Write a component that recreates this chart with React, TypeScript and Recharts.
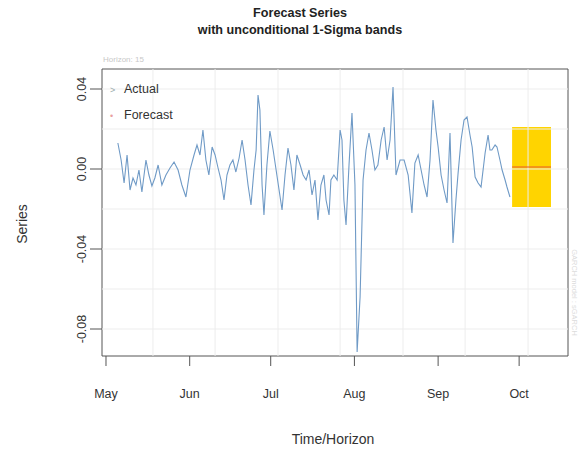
import { Area, ComposedChart, Legend, Line, ReferenceArea, ReferenceLine, XAxis, YAxis } from "recharts";

// days counted from 1 May
const monthTicks = [0, 31, 61, 92, 123, 153];
const monthLabels = ["May", "Jun", "Jul", "Aug", "Sep", "Oct"];
const yTicks = [0.04, 0.0, -0.04, -0.08];
const gridY = [0.04, 0.02, 0.0, -0.02, -0.04, -0.06, -0.08];
const gridX = [17.4, 40.4, 63.7, 86.7, 110, 133, 156.3];

const actualDays = [
  4.4, 5.6, 6.7, 7.8, 8.9, 10.0, 11.1, 12.2, 13.3, 14.8, 15.9, 17.0, 18.1, 19.3, 20.7, 22.2, 23.7, 25.2, 26.7, 28.1,
  29.6, 31.1, 32.6, 33.7, 34.8, 35.9, 37.0, 38.1, 39.3, 40.4, 41.5, 42.6, 43.7, 44.8, 45.9, 47.0, 48.1, 49.3, 50.4, 51.5,
  52.6, 53.7, 54.8, 55.6, 56.3, 57.0, 57.8, 58.5, 59.6, 60.7, 61.9, 63.0, 64.1, 65.2, 66.3, 67.4, 68.5, 69.6, 70.7, 71.9,
  73.0, 74.1, 75.2, 76.3, 77.4, 78.5, 79.6, 80.7, 81.5, 82.6, 83.3, 84.4, 85.6, 86.7, 87.4, 88.1, 88.9, 90.0, 91.1, 92.2,
  93.0, 94.1, 95.2, 96.3, 97.4, 98.5, 99.6, 100.7, 101.9, 103.0, 104.1, 105.2, 106.3, 107.4, 108.9, 110.4, 111.9, 113.3,
  114.4, 115.6, 116.7, 117.8, 118.9, 120.0, 121.1, 122.2, 123.0, 124.1, 125.2, 126.3, 127.4, 128.5, 129.6, 130.4, 131.5,
  132.6, 133.7, 134.8, 135.6, 136.7, 137.8, 138.9, 140.4, 141.5, 142.2, 142.9, 144.1, 144.8, 145.9, 146.7, 147.8, 148.5,
  149.6,
];
const actualValues = [
  0.013, 0.0045, -0.007, 0.007, -0.0105, -0.0045, -0.008, -0.0005, -0.0115, 0.0045, -0.003, -0.0085, -0.0045, 0.002,
  -0.008, -0.003, 0.0005, 0.0035, -0.0005, -0.008, -0.014, -0.0005, 0.007, 0.012, 0.007, 0.0195, 0.0045, -0.003, 0.011,
  0.007, 0.0005, -0.0055, -0.0155, -0.003, 0.002, 0.0045, -0.0015, 0.0055, 0.0145, 0.0045, -0.008, -0.018, -0.0005,
  0.0095, 0.037, 0.0295, -0.008, -0.023, 0.002, 0.019, 0.0095, -0.0005, -0.0105, -0.0205, -0.003, 0.0105, 0.002, -0.0105,
  0.007, 0.002, -0.003, -0.0055, -0.0005, -0.013, -0.0055, -0.0255, -0.008, -0.003, -0.0155, -0.023, -0.0055, -0.003,
  -0.0055, 0.0195, 0.0145, -0.0155, -0.028, 0.002, 0.028, -0.008, -0.0915, -0.064, -0.0055, 0.0095, 0.018, 0.0095,
  -0.0005, 0.002, 0.0145, 0.021, 0.0045, 0.0145, 0.041, -0.003, 0.0045, 0.0045, -0.003, -0.022, 0.003, 0.007, -0.0005,
  -0.008, -0.014, 0.0045, 0.0345, 0.0195, 0.011, -0.003, -0.0105, -0.017, 0.018, -0.037, -0.0155, -0.002, 0.0145, 0.0245,
  0.026, 0.017, 0.011, -0.004, -0.007, -0.009, 0.008, 0.017, 0.0095, 0.0095, 0.012, 0.011, 0.0045, -0.0005, -0.0055,
  -0.009, -0.014,
];

const forecastDays = [150.4, 151.4, 152.4, 153.5, 154.5, 155.5, 156.6, 157.6, 158.6, 159.7, 160.7, 161.7, 162.7, 163.8, 164.8];
const forecastValues = [0.001, 0.001, 0.001, 0.001, 0.001, 0.001, 0.001, 0.001, 0.001, 0.001, 0.001, 0.001, 0.001, 0.001, 0.001];
const upperBand = [0.021, 0.021, 0.021, 0.021, 0.021, 0.021, 0.021, 0.021, 0.021, 0.021, 0.021, 0.021, 0.021, 0.021, 0.021];
const lowerBand = [-0.019, -0.019, -0.019, -0.019, -0.019, -0.019, -0.019, -0.019, -0.019, -0.019, -0.019, -0.019, -0.019, -0.019, -0.019];

const xDomain = [-1.48, 171.1];
const yDomain = [-0.0935, 0.05];

const actualData = actualDays.map((day, i) => ({ day, actual: actualValues[i] }));
const forecastData = forecastDays.map((day, i) => ({
  day,
  forecast: forecastValues[i],
  band: [lowerBand[i], upperBand[i]],
}));

const font = '"Liberation Sans", Arial, Helvetica, sans-serif';
const lineColor = "#6f9ac6";
const forecastColor = "#e8562e";

function MonthTick({ x, y, payload, index }: any) {
  return (
    <text x={x} y={y + 30} textAnchor="middle" fontSize={12.5} fill="#333" fontFamily={font}>
      {monthLabels[index] ?? payload.value}
    </text>
  );
}

function ValueTick({ x, y, payload }: any) {
  const tx = x - 2;
  return (
    <text x={tx} y={y} transform={`rotate(-90, ${tx}, ${y})`} textAnchor="middle" fontSize={12.5} fill="#333" fontFamily={font}>
      {payload.value.toFixed(2)}
    </text>
  );
}

function LegendBox() {
  return (
    <div style={{ fontFamily: font, fontSize: 12.5, color: "#333", lineHeight: "25px" }}>
      <div>
        <span style={{ display: "inline-block", width: 14, color: "#9aa", fontSize: 9 }}>&gt;</span>Actual
      </div>
      <div>
        <span style={{ display: "inline-block", width: 14, color: "#e9a0a0", fontSize: 9 }}>•</span>Forecast
      </div>
    </div>
  );
}

export default function App() {
  return (
    <div style={{ position: "absolute", left: 0, top: 0, width: 584, height: 451, background: "#fff", fontFamily: font }}>
      <div style={{ position: "absolute", left: 150, width: 300, top: 5, textAlign: "center", fontWeight: "bold", fontSize: 12.6, lineHeight: "17px", color: "#222" }}>
        <div>Forecast Series</div>
        <div>with unconditional 1-Sigma bands</div>
      </div>
      <div style={{ position: "absolute", left: 103, top: 55, fontSize: 8, color: "#c8c8c8" }}>Horizon: 15</div>
      <div style={{ position: "absolute", left: 230, width: 206, top: 431, textAlign: "center", fontSize: 14, color: "#333" }}>Time/Horizon</div>
      <div style={{ position: "absolute", left: -28, top: 216, width: 100, textAlign: "center", fontSize: 14, color: "#333", transform: "rotate(-90deg)" }}>Series</div>
      <div style={{ position: "absolute", left: 524, top: 288, width: 100, textAlign: "center", fontSize: 7.5, lineHeight: "9px", color: "#dcdcdc", transform: "rotate(90deg)" }}>GARCH model : sGARCH</div>
      <ComposedChart width={584} height={451} margin={{ top: 69, right: 16, left: 62, bottom: 55 }} style={{ position: "absolute", left: 0, top: 0 }}>
        <XAxis
          type="number"
          dataKey="day"
          domain={xDomain}
          ticks={monthTicks}
          interval={0}
          allowDataOverflow
          height={40}
          tickSize={10}
          tickMargin={2}
          axisLine={false}
          tickLine={{ stroke: "#555" }}
          tick={<MonthTick />}
        />
        <YAxis
          type="number"
          domain={yDomain}
          ticks={yTicks}
          interval={0}
          allowDataOverflow
          width={40}
          tickSize={12}
          tickMargin={2}
          axisLine={false}
          tickLine={{ stroke: "#555" }}
          tick={<ValueTick />}
        />
        {gridY.map((v) => (
          <ReferenceLine key={"gy" + v} y={v} stroke="#ededed" strokeWidth={1} />
        ))}
        {gridX.map((v) => (
          <ReferenceLine key={"gx" + v} x={v} stroke="#ededed" strokeWidth={1} />
        ))}
        <Area data={forecastData} dataKey="band" type="linear" fill="#ffd400" fillOpacity={1} stroke="none" isAnimationActive={false} />
        <Line data={actualData} dataKey="actual" type="linear" stroke={lineColor} strokeWidth={1.1} dot={false} isAnimationActive={false} />
        <Line data={forecastData} dataKey="forecast" type="linear" stroke={forecastColor} strokeWidth={1.2} dot={false} isAnimationActive={false} />
        <ReferenceArea x1={xDomain[0]} x2={xDomain[1]} y1={yDomain[0]} y2={yDomain[1]} fill="none" stroke="#555" strokeWidth={1} ifOverflow="visible" />
        <Legend layout="vertical" align="center" verticalAlign="middle" wrapperStyle={{ left: 110, top: 77, width: 100 }} content={<LegendBox />} />
      </ComposedChart>
    </div>
  );
}
